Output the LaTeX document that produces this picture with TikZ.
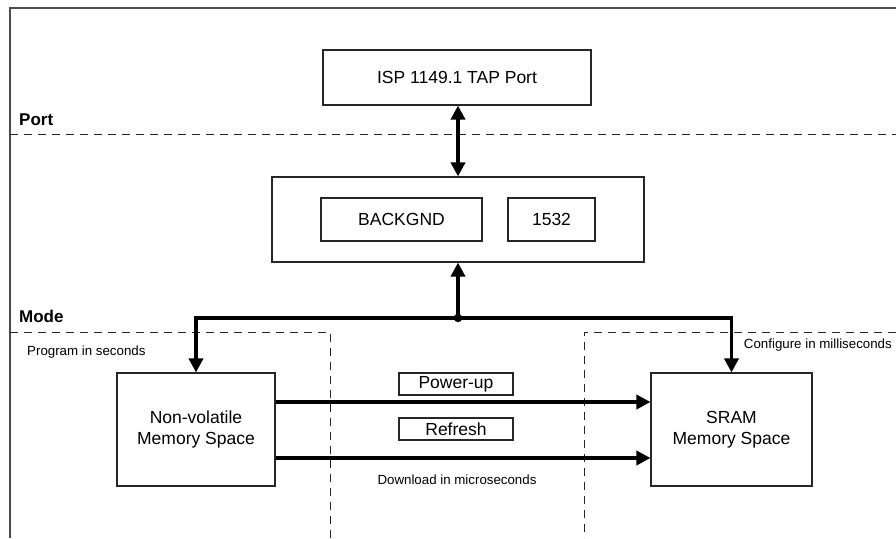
\documentclass[tikz,border=0pt]{standalone}
\usepackage{fontspec}
\setmainfont{Liberation Sans}
\usetikzlibrary{arrows.meta}
\begin{document}
\begin{tikzpicture}[x=1pt,y=-1pt,
  box/.style={draw=black!85, line width=1.1pt, fill=white, inner sep=0pt,
    align=center, font=\fontsize{17.5}{21}\selectfont},
  bus/.style={line width=3.6pt, line cap=butt},
  tip/.style={-{Triangle[length=14pt,width=14pt]}},
  divider/.style={draw=black!85, line width=1pt, dash pattern=on 8pt off 6pt},
  small/.style={font=\fontsize{13.3}{15}\selectfont, inner sep=0pt},
  level/.style={font=\bfseries\fontsize{17}{20}\selectfont, inner sep=0pt}]
\useasboundingbox (0,0) rectangle (896,538);

% outer frame (top and left edges only)
\draw[black!70, line width=1.6pt] (10,538) -- (10,8) -- (896,8);

% level dividers
\draw[divider] (10,134) -- (896,134);
\draw[divider] (10,332) -- (330,332) -- (330,538);
\draw[divider] (896,332) -- (584,332) -- (584,538);

\node[level, anchor=base west] (portlbl) at (19,125) {Port};
\node[level, anchor=base west] (modelbl) at (19,322) {Mode};
\node[small, anchor=base west] (prog) at (27,355) {Program in seconds};
\node[small, anchor=base east] (conf) at (892,348) {Configure in milliseconds};
\node[small, anchor=base] (down) at (457,484) {Download in microseconds};

% blocks
\node[box, minimum width=268pt, minimum height=55pt] (tap) at (457,77.5) {ISP 1149.1 TAP Port};
\node[box, minimum width=372pt, minimum height=85pt] (mid) at (458,219.5) {};
\node[box, minimum width=161pt, minimum height=43pt] (bg) at (401.5,219.5) {BACKGND};
\node[box, minimum width=87pt, minimum height=43pt] (n1532) at (551.5,219.5) {1532};
\node[box, minimum width=158pt, minimum height=113pt] (nv) at (196,429.5) {Non-volatile\\Memory Space};
\node[box, minimum width=161pt, minimum height=113pt] (sram) at (731.5,429.5) {SRAM\\Memory Space};
\node[box, minimum width=114pt, minimum height=22pt] (pwr) at (456,384) {Power-up};
\node[box, minimum width=114pt, minimum height=22pt] (refr) at (456,429) {Refresh};

% connectors
\coordinate (j) at (458,318);
\draw[bus, {Triangle[length=14pt,width=14pt]}-{Triangle[length=14pt,width=14pt]}]
  (tap.south -| mid.north) -- (mid.north);
\draw[bus, tip] (j) -- (mid.south);
\draw[bus, tip] ([xshift=1.8pt]j) -| (nv.north);
\draw[bus, tip] ([xshift=-1.8pt]j) -| (sram.north);
\fill (j) circle (4.2pt);
\draw[bus, tip] ([yshift=27.5pt]nv.east) -- ([yshift=27.5pt]sram.west);
\draw[bus, tip] ([yshift=-28.5pt]nv.east) -- ([yshift=-28.5pt]sram.west);
\end{tikzpicture}
\end{document}
